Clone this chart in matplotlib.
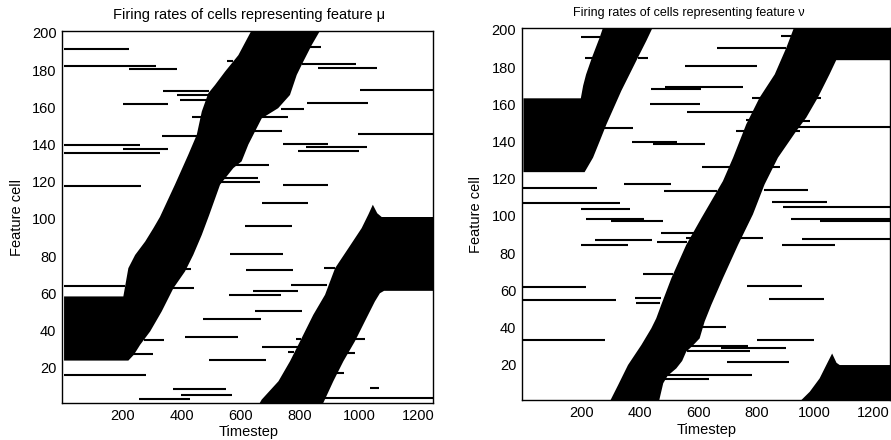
import numpy as np
import matplotlib
matplotlib.use("Agg")
import matplotlib.pyplot as plt

plt.rcParams["font.family"] = ["Liberation Sans", "DejaVu Sans"]

# ---- feature mu (left panel) ----
# band edges: (timestep, cell)
mu_band1_upper_t = [0, 201, 218, 241, 275, 303, 325, 376, 421, 450, 467, 489, 512, 546, 591, 638]
mu_band1_upper_c = [58.3, 58.3, 73.5, 80.6, 87.8, 95, 101, 118.4, 134.4, 145.2, 157.7, 167.5, 172, 179.2, 188, 202]
mu_band1_lower_t = [0, 218, 237, 258, 292, 331, 371, 410, 438, 467, 492, 529, 574, 602, 625, 670, 726, 766, 789, 811, 840, 871]
mu_band1_lower_c = [23.8, 23.8, 27, 32.3, 39.5, 50.2, 62.8, 71.7, 80.6, 91.4, 102, 118.4, 127.3, 130.9, 140, 154, 159.5, 166.6, 177.4, 184.5, 193.5, 202]

mu_band2_upper_t = [660, 670, 727, 766, 800, 845, 885, 919, 964, 1009, 1032, 1047, 1062, 1077, 1260]
mu_band2_upper_c = [0, 2.8, 12.7, 23.4, 34.1, 48.4, 59.2, 73.5, 84.2, 95, 102.4, 107.6, 103, 101, 101]
mu_band2_lower_t = [876, 913, 947, 986, 1020, 1054, 1071, 1085, 1260]
mu_band2_lower_c = [0, 12.7, 23.4, 34.1, 44.9, 55.6, 60, 61.3, 61.3]

# single active cells: (cell, start, end)
mu_lines = [
    (191.3, 0, 221), (182.2, 0, 312), (180.6, 221, 382), (168.8, 337, 493),
    (166.6, 382, 489), (163.8, 393, 488), (161.5, 201, 351), (154.5, 433, 472),
    (144.8, 331, 455), (139.5, 0, 258), (137.7, 201, 351), (135.4, 0, 325),
    (117.5, 0, 261), (185, 551, 574), (129, 575, 696), (122, 530, 658),
    (120, 530, 665), (192.2, 834, 871), (183.5, 806, 990), (181.3, 862, 1060),
    (169.5, 1003, 1260), (162.3, 823, 1029), (159.1, 735, 812), (154.5, 665, 760),
    (147.3, 633, 738), (145.5, 998, 1260), (140.2, 741, 894), (138.4, 820, 1027),
    (136.3, 794, 1001), (118.3, 743, 896), (108.5, 672, 828), (64, 0, 207),
    (96.3, 614, 774), (81.2, 563, 741), (73, 400, 430), (72.6, 617, 777),
    (63, 365, 441), (64.5, 770, 890), (61.3, 642, 792), (59.2, 560, 734),
    (50.5, 648, 806), (46.3, 470, 667), (36.3, 410, 590), (35, 270, 339),
    (27.3, 230, 303), (24.3, 493, 685), (16.1, 0, 278), (8.4, 368, 548),
    (5.5, 396, 568), (3.2, 254, 427), (35.6, 960, 1020), (31.3, 670, 800),
    (28, 940, 986), (28.5, 760, 780), (17, 910, 950), (9, 1037, 1068),
    (3.5, 885, 1260), (73.5, 880, 919), (35.5, 785, 805),
]

# ---- feature nu (right panel) ----
nu_bandA_upper_t = [0, 197, 205, 215, 235, 262, 275]
nu_bandA_upper_c = [163.2, 163.2, 170, 176, 185, 196, 202]
nu_bandA_lower_t = [0, 210, 239, 262, 285, 336, 393, 422, 446]
nu_bandA_lower_c = [123.5, 123.5, 131.3, 140.2, 149.2, 167.2, 185.1, 194.1, 202]

nu_bandB_upper_t = [296, 325, 359, 405, 439, 456, 473, 508, 559, 611, 685, 720, 765, 811, 863, 903, 931, 1260]
nu_bandB_upper_c = [0, 9, 19.8, 30.6, 39.5, 44.9, 52.1, 66.5, 84.4, 98.8, 118.7, 131.3, 149.2, 163.6, 176.1, 190.5, 202, 202]
nu_bandB_lower_t = [465, 468, 480, 495, 525, 545, 559, 580, 605, 622, 645, 685, 737, 788, 828, 874, 937, 971, 1011, 1051, 1074, 1260]
nu_bandB_lower_c = [0, 2, 10, 14, 18, 22, 27, 30, 34.1, 43.1, 52.1, 66.5, 84.4, 100.8, 116.9, 131.3, 145.6, 152.8, 163.6, 176.1, 183.7, 183.7]

nu_bandC_t = [948, 983, 1017, 1040, 1060, 1075, 1086, 1260, 1260]
nu_bandC_c = [0, 5.4, 12.6, 19.8, 26, 21, 19.8, 19.8, 0]

nu_lines = [
    (196.2, 199, 262), (185.1, 210, 245), (185.1, 393, 428), (180.5, 555, 803),
    (190.5, 663, 900), (169.3, 485, 755), (168.1, 437, 611), (160, 433, 607),
    (156, 563, 789), (147, 278, 375), (139.8, 373, 527), (138.7, 444, 622),
    (126.3, 613, 880), (117, 345, 505), (114.8, 0, 253), (113.2, 483, 664),
    (114, 825, 978), (107, 0, 330), (103.8, 199, 366), (107.5, 855, 1043),
    (104.6, 892, 1260), (196.8, 885, 920), (163.5, 785, 815), (163.5, 1000, 1022),
    (151.4, 765, 788), (151.2, 950, 985), (147.8, 905, 1260), (145.5, 730, 765),
    (145.5, 905, 948), (98.4, 216, 414), (97, 302, 479), (91, 473, 590),
    (86.9, 245, 443), (85.8, 460, 563), (88.3, 558, 595), (88.2, 744, 824),
    (84.1, 197, 359), (69, 411, 514), (61.8, 0, 216), (56.1, 382, 473),
    (54.8, 0, 318), (53.4, 388, 470), (33.1, 0, 281), (30.1, 572, 770),
    (29.2, 680, 900), (27.3, 560, 778), (14.7, 486, 784), (12.3, 486, 638),
    (98.5, 920, 1260), (97.2, 1017, 1260), (87.7, 957, 1260), (84.4, 888, 1071),
    (62.5, 769, 955), (55.4, 842, 1032), (40.5, 600, 695), (33.4, 802, 998),
    (21.2, 698, 911),
]

x_ticks = [200, 400, 600, 800, 1000, 1200]
y_ticks = [20, 40, 60, 80, 100, 120, 140, 160, 180, 200]


def fill_band(ax, upper_t, upper_c, lower_t, lower_c):
    xs = list(upper_t) + list(lower_t)[::-1]
    ys = list(upper_c) + list(lower_c)[::-1]
    ax.fill(xs, ys, color="black", lw=0)


def draw_lines(ax, lines):
    for cell, t0, t1 in lines:
        ax.hlines(cell, t0, t1, color="black", lw=1.5)


def style_axes(ax, xlim, title, title_x, title_size, ylab_x, xlab_y):
    ax.set_xlim(*xlim)
    ax.set_ylim(1, 201)
    ax.set_xticks(x_ticks)
    ax.set_yticks(y_ticks)
    ax.tick_params(length=0, labelsize=10.5, pad=4)
    for s in ax.spines.values():
        s.set_linewidth(1.0)
    ax.set_xlabel("Timestep", fontsize=10.5)
    ax.set_ylabel("Feature cell", fontsize=10.5)
    ax.yaxis.set_label_coords(ylab_x, 0.5)
    ax.xaxis.set_label_coords(0.503, xlab_y)
    ax.text(title_x, 1.031, title, transform=ax.transAxes, ha="center",
            va="baseline", fontsize=title_size)


fig = plt.figure(figsize=(8.91, 4.40), dpi=100)
ax1 = fig.add_axes([62 / 891, 37 / 440, 371 / 891, 372 / 440])
ax2 = fig.add_axes([521.7 / 891, 40 / 440, 367.8 / 891, 372 / 440])

fill_band(ax1, mu_band1_upper_t, mu_band1_upper_c, mu_band1_lower_t, mu_band1_lower_c)
fill_band(ax1, mu_band2_upper_t, mu_band2_upper_c, mu_band2_lower_t, mu_band2_lower_c)
draw_lines(ax1, mu_lines)
style_axes(ax1, (-7, 1251), "Firing rates of cells representing feature \u03bc",
           0.504, 10.5, -0.102, -0.058)

fill_band(ax2, nu_bandA_upper_t, nu_bandA_upper_c, nu_bandA_lower_t, nu_bandA_lower_c)
fill_band(ax2, nu_bandB_upper_t, nu_bandB_upper_c, nu_bandB_lower_t, nu_bandB_lower_c)
ax2.fill(nu_bandC_t, nu_bandC_c, color="black", lw=0)
draw_lines(ax2, nu_lines)
style_axes(ax2, (-6, 1257), "Firing rates of cells representing feature \u03bd",
           0.454, 9, -0.105, -0.062)

fig.savefig("out.png", dpi=100)
